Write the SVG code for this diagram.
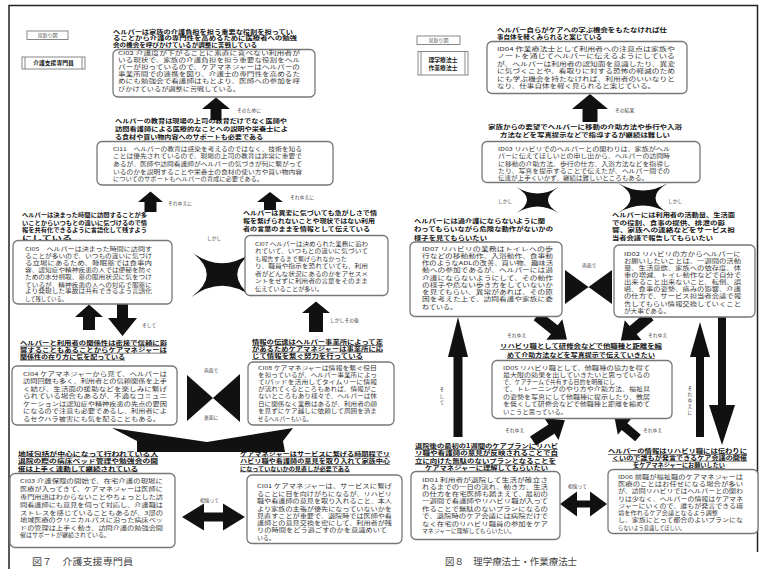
<svg xmlns="http://www.w3.org/2000/svg" xmlns:xlink="http://www.w3.org/1999/xlink" width="766" height="569" viewBox="0 0 766 569">
<style>
text { font-family: "Noto Sans CJK JP", "Noto Sans CJK SC", sans-serif; }
.h { font-size: 5.6px; font-weight: bold; fill: #111; }
.u { text-decoration: underline; }
.b { font-size: 5.4px; fill: #333; }
.l { font-size: 4.8px; fill: #444; }
.tag { font-size: 5px; fill: #555; }
.role { font-size: 5.8px; font-weight: bold; fill: #222; }
.cap { font-size: 9.5px; fill: #444; }
.box { fill: #fff; stroke: #777; stroke-width: 1.3; }
.thin { fill: #fff; stroke: #888; stroke-width: 1; }
.blk { fill: #111; stroke: none; }
.frame { fill: none; stroke: #222; stroke-width: 1.5; }
</style>
<defs>
  <!-- four-pointed X with concave sides, unit size -->
  <path id="xstar" d="M-1,-1 Q0,0 1,-1 Q0,0 1,1 Q0,0 -1,1 Q0,0 -1,-1 Z"/>
  <!-- straight block arrow pointing along +x, length 38 -->
  <path id="darr" d="M0,-5.5 L22,-5.5 L22,-13 L38,0 L22,13 L22,5.5 L0,5.5 Z"/>
</defs>

<rect width="766" height="569" fill="#fff"/>
<path class="frame" d="M9,569 L9,5.5 L757.5,5.5 L757.5,552"/>

<g id="connectors">
  <!-- left figure -->
  <path class="blk" d="M216,97.5 L230,109 L221.5,109 L221.5,120 L210.5,120 L210.5,109 L202,109 Z"/>
  <path class="blk" d="M150.5,191.5 L163,202 L156.5,202 L156.5,212 L144.5,212 L144.5,202 L138,202 Z"/>
  <path class="blk" d="M270,192 L283,202 L276,202 L276,210 L264,210 L264,202 L257,202 Z"/>
  <use href="#xstar" class="blk" transform="translate(222,274.5) scale(30.5,22.5)"/>
  <path class="blk" d="M316,301.5 L330,313 L323,313 L323,332 L309,332 L309,313 L302,313 Z"/>
  <path class="blk" d="M89,304.5 L103,317 L95,317 L95,330 L83,330 L83,317 L75,317 Z"/>
  <path class="blk" d="M117,304 L128,304 L128,318 L137,318 L122.5,336 L108,318 L117,318 Z"/>
  <path class="blk" d="M187,375 L240,422 L240,374 L187,421 Z"/>
  <path class="blk" d="M112,428 L207,442 L293,428 L283,441 L285,452 L137,452 L137,441 Z"/>
  <path class="blk" d="M182,517 L204,503.5 L204,512.5 L223,512.5 L223,503.5 L245,517 L223,530.5 L223,521.5 L204,521.5 L204,530.5 Z"/>
  <!-- right figure -->
  <path class="blk" d="M590,94 L608,109 L597.5,109 L597.5,122 L582.5,122 L582.5,109 L572,109 Z"/>
  <use href="#xstar" class="blk" transform="translate(537.5,200) scale(21,13)"/>
  <use href="#xstar" class="blk" transform="translate(643,198) scale(25,15)"/>
  <path class="blk" d="M565,270 L612,304 L612,270 L565,304 Z"/>
  <use href="#darr" class="blk" transform="translate(537,316) rotate(38)"/>
  <use href="#darr" class="blk" transform="translate(650,316) rotate(140)"/>
  <use href="#darr" class="blk" transform="translate(533,441) rotate(-33)"/>
  <use href="#darr" class="blk" transform="translate(638,438) rotate(-140) scale(0.8)"/>
  <path class="blk" d="M458,317 L468,357 L462.5,357 L462.5,437 L453.5,437 L453.5,357 L448,357 Z"/>
  <path class="blk" d="M700,322 L710,357 L704,357 L704,437 L696,437 L696,357 L690,357 Z"/>
  <path class="blk" d="M718,317 L726,317 L726,405 L735,405 L722,445 L709,405 L718,405 Z"/>
  <path class="blk" d="M560,504 L577,491.5 L577,500.5 L590,500.5 L590,491.5 L607,504 L590,516.5 L590,507.5 L577,507.5 L577,516.5 Z"/>

  <!-- connector labels -->
  <text class="l" x="237" y="112">そのために</text>
  <text class="l" x="168" y="205">それゆえに</text>
  <text class="l" x="290" y="199">それゆえに</text>
  <text class="l" x="207" y="240">しかし</text>
  <text class="l" x="330" y="322">しかしその後</text>
  <text class="l" x="142" y="327">そして</text>
  <text class="l" x="204" y="372">両面で</text>
  <text class="l" x="204" y="419">裏面に</text>
  <text class="l" x="200" y="502">相俟って</text>
  <text class="l" x="615" y="112">その結果</text>
  <text class="l" x="498" y="203">しかし</text>
  <text class="l" x="668" y="203">しかし</text>
  <text class="l" x="582" y="267">両面で</text>
  <text class="l" x="507" y="337">それゆえ</text>
  <text class="l" x="648" y="337">それゆえ</text>
  <text class="l" x="505" y="432">それゆえ</text>
  <text class="l" x="643" y="432">それゆえ</text>
  <text class="l" x="568" y="488">相俟って</text>
  <text class="l" text-anchor="middle"><tspan x="442" y="391">そ</tspan><tspan x="442" y="397.5">し</tspan><tspan x="442" y="404">て</tspan></text>
  <text class="l" text-anchor="middle"><tspan x="690" y="390">そ</tspan><tspan x="690" y="396">れ</tspan><tspan x="690" y="402">ゆ</tspan><tspan x="690" y="408">え</tspan><tspan x="690" y="414">に</tspan></text>
</g>

<g id="legend-left">
  <rect class="thin" x="27" y="31" width="41" height="8.5"/>
  <text class="tag" x="47.5" y="37.4" text-anchor="middle">見取り図</text>
  <rect class="thin" x="22" y="57" width="63" height="12"/>
  <path d="M25,57 V69 M82,57 V69" stroke="#888" stroke-width="1"/>
  <text class="role" x="53.5" y="65.2" text-anchor="middle">介護支援専門員</text>
</g>

<g id="n-ci02">
  <text class="h" x="113" y="33.5" textLength="180" lengthAdjust="spacingAndGlyphs">ヘルパーは家族の介護負担を担う重要な役割を担ってい</text>
  <text class="h" x="113" y="40" textLength="184" lengthAdjust="spacingAndGlyphs">ることから介護の専門性を高めるために医療者への勉強</text>
  <text class="h" x="113" y="46.5" textLength="144" lengthAdjust="spacingAndGlyphs">会の機会を呼びかけているが調整に苦戦している</text>
  <rect class="box" x="113" y="49.5" width="202" height="47.5" rx="5"/>
  <text class="b" x="118" y="55" textLength="182" lengthAdjust="spacingAndGlyphs">CI02 介護度が下がることに素直に喜べない利用者が</text>
  <text class="b" x="118" y="62.2" textLength="182" lengthAdjust="spacingAndGlyphs">いる現状で、家族の介護負担を担う重要な役割をヘル</text>
  <text class="b" x="118" y="69.2" textLength="182" lengthAdjust="spacingAndGlyphs">パーが担っているので、ケアマネジャーはヘルパーの</text>
  <text class="b" x="118" y="76.2" textLength="182" lengthAdjust="spacingAndGlyphs">事業所間での連携を図り、介護士の専門性を高めるた</text>
  <text class="b" x="118" y="83.2" textLength="182" lengthAdjust="spacingAndGlyphs">めにも勉強会で看護師はもとより、医師への参加を呼</text>
  <text class="b" x="118" y="90.7" textLength="122" lengthAdjust="spacingAndGlyphs">びかけているが調整に苦戦している。</text>
</g>

<g id="n-ci11">
  <text class="h" x="115" y="123" textLength="172" lengthAdjust="spacingAndGlyphs">ヘルパーの教育は現場の上司の教育だけでなく医師や</text>
  <text class="h" x="115" y="130.6" textLength="173" lengthAdjust="spacingAndGlyphs">訪問看護師による医療的なことへの説明や栄養士によ</text>
  <text class="h" x="115" y="138.8" textLength="148" lengthAdjust="spacingAndGlyphs">る食材や買い物内容へのサポートも必要である</text>
  <rect class="box" x="97" y="141.5" width="236" height="43.5" rx="5"/>
  <text class="b" x="113" y="150.5" textLength="189" lengthAdjust="spacingAndGlyphs">CI11　ヘルパーの教育は感染を考えるのではなく、技術を知る</text>
  <text class="b" x="113" y="158.2" textLength="189" lengthAdjust="spacingAndGlyphs">ことは優先されているので、現場の上司の教育は非常に重要で</text>
  <text class="b" x="113" y="166.2" textLength="189" lengthAdjust="spacingAndGlyphs">あるが、医師や訪問看護師がヘルパーの気づきが何に繋がって</text>
  <text class="b" x="113" y="173.9" textLength="189" lengthAdjust="spacingAndGlyphs">いるのかを説明することや栄養士の食材の使い方や買い物内容</text>
  <text class="b" x="113" y="181.2" textLength="150" lengthAdjust="spacingAndGlyphs">についてのサポートもヘルパーの育成に必要である。</text>
</g>

<g id="n-ci05">
  <text class="h" x="22" y="217.3" textLength="125" lengthAdjust="spacingAndGlyphs">ヘルパーは決まった時間に訪問することが多</text>
  <text class="h" x="22" y="224.8" textLength="125" lengthAdjust="spacingAndGlyphs">いことからいつもとの違いに気づけるので情</text>
  <text class="h" x="22" y="232.3" textLength="125" lengthAdjust="spacingAndGlyphs">報を共有化できるように言語化して残すよう</text>
  <text class="h" x="22" y="239.6" textLength="50" lengthAdjust="spacingAndGlyphs">にしている</text>
  <rect class="box" x="13" y="240.5" width="159" height="63.5" rx="5"/>
  <text class="b" x="25" y="250.5" textLength="127" lengthAdjust="spacingAndGlyphs">CI05　ヘルパーは決まった時間に訪問す</text>
  <text class="b" x="25" y="257.9" textLength="127" lengthAdjust="spacingAndGlyphs">ることが多いので、いつもの違いに気づけ</text>
  <text class="b" x="25" y="264.9" textLength="127" lengthAdjust="spacingAndGlyphs">る立場にあるため、睡眠薬では食事内</text>
  <text class="b" x="25" y="272.2" textLength="127" lengthAdjust="spacingAndGlyphs">容、認知症や精神疾患の人では便秘を防ぐ</text>
  <text class="b" x="25" y="279.2" textLength="127" lengthAdjust="spacingAndGlyphs">ための水分摂取、薬の服用状況に気をつけ</text>
  <text class="b" x="25" y="286.5" textLength="127" lengthAdjust="spacingAndGlyphs">ているが、精神疾患の人への対応で服薬に</text>
  <text class="b" x="25" y="293.2" textLength="127" lengthAdjust="spacingAndGlyphs">より発現した事故は共有できるよう言語化</text>
  <text class="b" x="25" y="300.5" textLength="42" lengthAdjust="spacingAndGlyphs">して残している。</text>
</g>

<g id="n-ci07">
  <text class="h" x="243" y="214.8" textLength="134" lengthAdjust="spacingAndGlyphs">ヘルパーは異変に気づいても急がしさで情</text>
  <text class="h" x="243" y="222.8" textLength="132" lengthAdjust="spacingAndGlyphs">報を繋げられないことや現状ではない利用</text>
  <text class="h" x="243" y="231.3" textLength="127" lengthAdjust="spacingAndGlyphs">者の言葉のままを情報として伝えている</text>
  <rect class="box" x="245" y="235.5" width="143" height="60" rx="5"/>
  <text class="b" x="255" y="245.5" textLength="113" lengthAdjust="spacingAndGlyphs">CI07 ヘルパーは決められた業務に追わ</text>
  <text class="b" x="255" y="252.9" textLength="113" lengthAdjust="spacingAndGlyphs">れていて、いつもとの違いに気づいて</text>
  <text class="b" x="255" y="260.5" textLength="92" lengthAdjust="spacingAndGlyphs">も報告するまで繋げられなかった</text>
  <text class="b" x="255" y="267.9" textLength="113" lengthAdjust="spacingAndGlyphs">り、職員や指示を恐れていても、利用</text>
  <text class="b" x="255" y="275.5" textLength="113" lengthAdjust="spacingAndGlyphs">者がどんな状況にあるのかをアセスメ</text>
  <text class="b" x="255" y="283.2" textLength="113" lengthAdjust="spacingAndGlyphs">ントをせずに利用者の言葉をそのまま</text>
  <text class="b" x="255" y="290.5" textLength="68" lengthAdjust="spacingAndGlyphs">伝えていることが多い。</text>
</g>

<g id="n-ci04">
  <text class="h u" x="20" y="344.8" textLength="147" lengthAdjust="spacingAndGlyphs">ヘルパーと利用者の関係性は密接で信頼に影</text>
  <text class="h u" x="20" y="351.8" textLength="147" lengthAdjust="spacingAndGlyphs">響することもあることからケアマネジャーは</text>
  <text class="h u" x="20" y="358.8" textLength="105" lengthAdjust="spacingAndGlyphs">関係性の在り方に気を配っている</text>
  <rect class="box" x="12" y="366" width="165" height="59" rx="5"/>
  <text class="b" x="23" y="375.5" textLength="144" lengthAdjust="spacingAndGlyphs">CI04 ケアマネジャーから見て、ヘルパーは</text>
  <text class="b" x="23" y="383.2" textLength="144" lengthAdjust="spacingAndGlyphs">訪問回数も多く、利用者との信頼関係を上手</text>
  <text class="b" x="23" y="390.5" textLength="144" lengthAdjust="spacingAndGlyphs">く結び、生活面の援助などを楽しみに繋げ</text>
  <text class="b" x="23" y="397.9" textLength="144" lengthAdjust="spacingAndGlyphs">られている場合もあるが、不適なコミュニ</text>
  <text class="b" x="23" y="405.5" textLength="144" lengthAdjust="spacingAndGlyphs">ケーションは認知症や精神疾患の先点の要因</text>
  <text class="b" x="23" y="412.9" textLength="144" lengthAdjust="spacingAndGlyphs">になるので注意も必要であるし、利用者によ</text>
  <text class="b" x="23" y="420.5" textLength="137" lengthAdjust="spacingAndGlyphs">るセクハラ被害にも気を配ることもある。</text>
</g>

<g id="n-ci08">
  <text class="h u" x="252" y="344" textLength="131" lengthAdjust="spacingAndGlyphs">情報の伝達はヘルパー事業所によって差</text>
  <text class="h u" x="252" y="350.8" textLength="131" lengthAdjust="spacingAndGlyphs">があるためケアマネジャーは事業所に応</text>
  <text class="h u" x="252" y="358" textLength="111" lengthAdjust="spacingAndGlyphs">じて情報を繋ぐ努力を行っている</text>
  <rect class="box" x="248" y="362" width="146" height="63" rx="5"/>
  <text class="b" x="258" y="369.5" textLength="119" lengthAdjust="spacingAndGlyphs">CI08 ケアマネジャーは情報を繋ぐ役目</text>
  <text class="b" x="258" y="376.5" textLength="119" lengthAdjust="spacingAndGlyphs">を担っているが、ヘルパー事業所によっ</text>
  <text class="b" x="258" y="383.9" textLength="119" lengthAdjust="spacingAndGlyphs">てIパッドを活用してタイムリーに情報</text>
  <text class="b" x="258" y="391.2" textLength="119" lengthAdjust="spacingAndGlyphs">が流れてくるところもあれば、情報がこ</text>
  <text class="b" x="258" y="398.2" textLength="119" lengthAdjust="spacingAndGlyphs">ないところもあり様々で、ヘルパーは休</text>
  <text class="b" x="258" y="405.5" textLength="119" lengthAdjust="spacingAndGlyphs">日に関係なく業務はあるが、利用者の顔</text>
  <text class="b" x="258" y="412.9" textLength="119" lengthAdjust="spacingAndGlyphs">を見ずにケア越しに依頼して周囲を済ま</text>
  <text class="b" x="258" y="420.5" textLength="54" lengthAdjust="spacingAndGlyphs">せるヘルパーもいる。</text>
</g>

<g id="n-ci03">
  <text class="h u" x="18" y="455.6" textLength="140" lengthAdjust="spacingAndGlyphs">地域包括が中心になって行われている入</text>
  <text class="h u" x="18" y="463" textLength="140" lengthAdjust="spacingAndGlyphs">退院の際の病床ベッド管理や勉強会の開</text>
  <text class="h u" x="18" y="470.6" textLength="120" lengthAdjust="spacingAndGlyphs">催は上手く連動して継続されている</text>
  <rect class="box" x="10" y="473.5" width="165" height="74" rx="5"/>
  <text class="b" x="20" y="483.2" textLength="143" lengthAdjust="spacingAndGlyphs">CI03 介護保険の開始で、在宅介護の現場に</text>
  <text class="b" x="20" y="491.2" textLength="143" lengthAdjust="spacingAndGlyphs">医療が入ってきて、ケアマネジャーは医師に</text>
  <text class="b" x="20" y="498.9" textLength="143" lengthAdjust="spacingAndGlyphs">専門用語はわからないことやちょっとした訪</text>
  <text class="b" x="20" y="506.5" textLength="143" lengthAdjust="spacingAndGlyphs">問看護師にも意見を伺って対応し、介護職は</text>
  <text class="b" x="20" y="514.5" textLength="143" lengthAdjust="spacingAndGlyphs">ストレスを感じていることもあるが、3部の</text>
  <text class="b" x="20" y="522.2" textLength="143" lengthAdjust="spacingAndGlyphs">地域医療のクリニカルパスに沿った病床ベッ</text>
  <text class="b" x="20" y="529.5" textLength="143" lengthAdjust="spacingAndGlyphs">ドの管理は上手く動き、訪問介護の勉強会開</text>
  <text class="b" x="20" y="537.2" textLength="90" lengthAdjust="spacingAndGlyphs">催はサポートが継続されている。</text>
</g>

<g id="n-ci01">
  <text class="h u" x="240" y="455.6" textLength="150" lengthAdjust="spacingAndGlyphs">ケアマネジャーはサービスに繋げる時期程でリ</text>
  <text class="h u" x="240" y="463" textLength="150" lengthAdjust="spacingAndGlyphs">ハビリ職や看護師の意見を取り入れて家族中心</text>
  <text class="h u" x="240" y="470.6" textLength="110" lengthAdjust="spacingAndGlyphs">になっていないかの見直しが必要である</text>
  <rect class="box" x="247" y="475" width="155" height="68.5" rx="5"/>
  <text class="b" x="257" y="488.2" textLength="135" lengthAdjust="spacingAndGlyphs">CI01 ケアマネジャーは、サービスに繋げ</text>
  <text class="b" x="257" y="495.5" textLength="135" lengthAdjust="spacingAndGlyphs">ることに目を向けがちになるが、リハビリ</text>
  <text class="b" x="257" y="502.9" textLength="135" lengthAdjust="spacingAndGlyphs">職や看護師の意見を取り入れること、本人</text>
  <text class="b" x="257" y="510.5" textLength="135" lengthAdjust="spacingAndGlyphs">より家族の主張が優先になっていないかを</text>
  <text class="b" x="257" y="517.9" textLength="135" lengthAdjust="spacingAndGlyphs">見直すことが重要で、退院時では医師や看</text>
  <text class="b" x="257" y="524.9" textLength="135" lengthAdjust="spacingAndGlyphs">護師との意見交換を密にして、利用者が残</text>
  <text class="b" x="257" y="532.2" textLength="130" lengthAdjust="spacingAndGlyphs">りの時間をどう過ごすのかを意識めいて</text>
  <text class="b" x="257" y="539.5" textLength="18" lengthAdjust="spacingAndGlyphs">いる。</text>
</g>

<text class="cap" x="32" y="565" textLength="101" lengthAdjust="spacingAndGlyphs">図７　介護支援専門員</text>

<g id="legend-right">
  <rect class="thin" x="417" y="36" width="43" height="8.5"/>
  <text class="tag" x="438.5" y="42.4" text-anchor="middle">見取り図</text>
  <rect class="thin" x="418" y="51.5" width="50" height="23.5"/>
  <path d="M421,51.5 V75 M465,51.5 V75" stroke="#888" stroke-width="1"/>
  <text class="role" x="443" y="61.5" text-anchor="middle">理学療法士</text>
  <text class="role" x="443" y="69.6" text-anchor="middle">作業療法士</text>
</g>

<g id="n-id04">
  <text class="h" x="497" y="31.8" textLength="170" lengthAdjust="spacingAndGlyphs">ヘルパー自らがケアへの学ぶ機会をもたなければ仕</text>
  <text class="h" x="497" y="38.5" textLength="105" lengthAdjust="spacingAndGlyphs">事自体を軽くみられると案じている</text>
  <rect class="box" x="487" y="41.5" width="200" height="52" rx="5"/>
  <text class="b" x="497" y="50.5" textLength="178" lengthAdjust="spacingAndGlyphs">ID04 作業療法士として利用者への注意点は家族や</text>
  <text class="b" x="497" y="58.2" textLength="178" lengthAdjust="spacingAndGlyphs">ノートを通じてヘルパーに伝えるようにしている</text>
  <text class="b" x="497" y="65.5" textLength="178" lengthAdjust="spacingAndGlyphs">が、ヘルパーは利用者の認知面を意識したり、異変</text>
  <text class="b" x="497" y="72.9" textLength="178" lengthAdjust="spacingAndGlyphs">に気づくことや、看取りに対する恐怖の軽減のため</text>
  <text class="b" x="497" y="80.5" textLength="178" lengthAdjust="spacingAndGlyphs">にも学ぶ機会を持たなければ、利用者のいいなりと</text>
  <text class="b" x="497" y="88.2" textLength="158" lengthAdjust="spacingAndGlyphs">なり、仕事自体を軽く見られると案じている。</text>
</g>

<g id="n-id03">
  <text class="h" x="488" y="129" textLength="194" lengthAdjust="spacingAndGlyphs">家族からの要望でヘルパーに移動の介助方法や歩行や入浴</text>
  <text class="h" x="500" y="136.6" textLength="170" lengthAdjust="spacingAndGlyphs">方法などを写真提示などで指導するが継続は難しい</text>
  <rect class="box" x="482" y="141.5" width="218" height="41" rx="5"/>
  <text class="b" x="498" y="150.5" textLength="172" lengthAdjust="spacingAndGlyphs">ID03 リハビリでのヘルパーとの関わりは、家族がヘル</text>
  <text class="b" x="498" y="157.9" textLength="172" lengthAdjust="spacingAndGlyphs">パーに伝えてほしいとの申し出から、ヘルパーの訪問時</text>
  <text class="b" x="498" y="165.5" textLength="172" lengthAdjust="spacingAndGlyphs">に移動の介助方法、歩行の仕方、入浴方法などを指導し</text>
  <text class="b" x="498" y="172.9" textLength="172" lengthAdjust="spacingAndGlyphs">たり、写真を提示することで伝えたが、ヘルパー間での</text>
  <text class="b" x="498" y="180.3" textLength="150" lengthAdjust="spacingAndGlyphs">伝達が上手くいかず、継続は難しいところもある。</text>
</g>

<g id="n-id07">
  <text class="h" x="414" y="223.3" textLength="131" lengthAdjust="spacingAndGlyphs">ヘルパーには過介護にならないように関</text>
  <text class="h" x="414" y="231.3" textLength="139" lengthAdjust="spacingAndGlyphs">わってもらいながら危険な動作がないかの</text>
  <text class="h" x="414" y="239.5" textLength="73" lengthAdjust="spacingAndGlyphs">様子を見てもらいたい</text>
  <rect class="box" x="410" y="242" width="152" height="74.5" rx="5"/>
  <text class="b" x="422" y="250.5" textLength="131" lengthAdjust="spacingAndGlyphs">ID07 リハビリの業務はトイレへの歩</text>
  <text class="b" x="422" y="257.9" textLength="131" lengthAdjust="spacingAndGlyphs">行などの移動動作、入浴動作、食事動</text>
  <text class="b" x="422" y="264.9" textLength="131" lengthAdjust="spacingAndGlyphs">作のようなADLの改善、買い物、趣味活</text>
  <text class="b" x="422" y="272.2" textLength="131" lengthAdjust="spacingAndGlyphs">動への参加であるが、ヘルパーには過</text>
  <text class="b" x="422" y="279.5" textLength="131" lengthAdjust="spacingAndGlyphs">介護にならないようにして、その動作</text>
  <text class="b" x="422" y="286.5" textLength="131" lengthAdjust="spacingAndGlyphs">の様子や危ない歩き方をしていないか</text>
  <text class="b" x="422" y="293.9" textLength="131" lengthAdjust="spacingAndGlyphs">を見てもらい、異常があれば、その原</text>
  <text class="b" x="422" y="301.2" textLength="131" lengthAdjust="spacingAndGlyphs">因を考えた上で、訪問看護や家族に委</text>
  <text class="b" x="422" y="308.7" textLength="35" lengthAdjust="spacingAndGlyphs">ねている。</text>
</g>

<g id="n-id02">
  <text class="h" x="612" y="217.3" textLength="123" lengthAdjust="spacingAndGlyphs">ヘルパーには利用者の活動量、生活面</text>
  <text class="h" x="612" y="224.6" textLength="113" lengthAdjust="spacingAndGlyphs">での役割、食事の提供、排泄の影</text>
  <text class="h" x="612" y="232.3" textLength="123" lengthAdjust="spacingAndGlyphs">響、家族への連絡などをサービス担</text>
  <text class="h" x="612" y="239.6" textLength="101" lengthAdjust="spacingAndGlyphs">当者会議で報告してもらいたい</text>
  <rect class="box" x="614" y="245" width="141" height="72" rx="5"/>
  <text class="b" x="624" y="255.5" textLength="117" lengthAdjust="spacingAndGlyphs">ID02 リハビリの方からヘルパーに</text>
  <text class="b" x="624" y="262.5" textLength="117" lengthAdjust="spacingAndGlyphs">お願いしたいことは、一週間の活動</text>
  <text class="b" x="624" y="269.5" textLength="117" lengthAdjust="spacingAndGlyphs">量、生活意欲、家族への依存度、体</text>
  <text class="b" x="624" y="276.5" textLength="117" lengthAdjust="spacingAndGlyphs">重の増減、トイレ動作などで自分で</text>
  <text class="b" x="624" y="283.9" textLength="117" lengthAdjust="spacingAndGlyphs">出来ること出来ないこと、転倒、誤</text>
  <text class="b" x="624" y="291.2" textLength="117" lengthAdjust="spacingAndGlyphs">嚥、食事の姿勢、痛みの影響、介護</text>
  <text class="b" x="624" y="298.2" textLength="117" lengthAdjust="spacingAndGlyphs">の仕方で、サービス担当者会議で報</text>
  <text class="b" x="624" y="305.5" textLength="117" lengthAdjust="spacingAndGlyphs">告してもらい情報交換していくこと</text>
  <text class="b" x="624" y="312.9" textLength="46" lengthAdjust="spacingAndGlyphs">が大事である。</text>
</g>

<g id="n-id05">
  <text class="h u" x="500" y="348.3" textLength="162" lengthAdjust="spacingAndGlyphs">リハビリ職として研修会などで他職種と距離を縮</text>
  <text class="h u" x="507" y="357" textLength="148" lengthAdjust="spacingAndGlyphs">めて介助方法などを写真提示で伝えていきたい</text>
  <rect class="box" x="492" y="360.5" width="180" height="58" rx="5"/>
  <text class="b" x="503" y="369.5" textLength="147" lengthAdjust="spacingAndGlyphs">ID05 リハビリ職として、他職種の協力を得て</text>
  <text class="b" x="503" y="376.5" textLength="147" lengthAdjust="spacingAndGlyphs">最大限の効果を出していきたいと思っているの</text>
  <text class="b" x="503" y="383.9" textLength="112" lengthAdjust="spacingAndGlyphs">で、ケアチームで共有する目的を明確にし</text>
  <text class="b" x="503" y="391.2" textLength="147" lengthAdjust="spacingAndGlyphs">て、トレーニングのやり方や介助方法、福祉具</text>
  <text class="b" x="503" y="398.9" textLength="147" lengthAdjust="spacingAndGlyphs">の姿勢を写真にして他職種に提示したり、敷居</text>
  <text class="b" x="503" y="406.2" textLength="147" lengthAdjust="spacingAndGlyphs">を低くして研修会などで他職種と距離を縮めて</text>
  <text class="b" x="503" y="413.9" textLength="64" lengthAdjust="spacingAndGlyphs">いこうと思っている。</text>
</g>

<g id="n-id01">
  <text class="h u" x="415" y="448.3" textLength="143" lengthAdjust="spacingAndGlyphs">退院後の最初の1週間のケアプランにリハビ</text>
  <text class="h u" x="415" y="455.4" textLength="143" lengthAdjust="spacingAndGlyphs">リ職や看護師の意見が反映されることで自</text>
  <text class="h u" x="415" y="463" textLength="141" lengthAdjust="spacingAndGlyphs">立に向けた無駄のないプランとなることを</text>
  <text class="h u" x="425" y="470.4" textLength="123" lengthAdjust="spacingAndGlyphs">ケアマネジャーに理解してもらいたい</text>
  <rect class="box" x="411" y="471.5" width="149" height="68" rx="5"/>
  <text class="b" x="422" y="482.2" textLength="126" lengthAdjust="spacingAndGlyphs">ID01 利用者が退院して生活が確立さ</text>
  <text class="b" x="422" y="489.2" textLength="126" lengthAdjust="spacingAndGlyphs">れるまでの一日の流れ、動き方、生活</text>
  <text class="b" x="422" y="496.2" textLength="126" lengthAdjust="spacingAndGlyphs">の仕方を在宅医師も踏まえて、最初の</text>
  <text class="b" x="422" y="503.2" textLength="126" lengthAdjust="spacingAndGlyphs">一週間で看護師やリハビリ職が入って</text>
  <text class="b" x="422" y="510.5" textLength="126" lengthAdjust="spacingAndGlyphs">作ることで無駄のないプランになるの</text>
  <text class="b" x="422" y="517.9" textLength="126" lengthAdjust="spacingAndGlyphs">で、退院時のケア会議には病院だけで</text>
  <text class="b" x="422" y="525.5" textLength="126" lengthAdjust="spacingAndGlyphs">なく在宅のリハビリ職員の参加をケア</text>
  <text class="b" x="422" y="532.9" textLength="93" lengthAdjust="spacingAndGlyphs">マネジャーに理解してもらいたい。</text>
</g>

<g id="n-id06">
  <text class="h u" x="608" y="453" textLength="139" lengthAdjust="spacingAndGlyphs">ヘルパーの情報はリハビリ職には伝わりに</text>
  <text class="h u" x="612" y="459.8" textLength="135" lengthAdjust="spacingAndGlyphs">くいので誰もが発言できるケア会議の開催</text>
  <text class="h u" x="633" y="467.1" textLength="92" lengthAdjust="spacingAndGlyphs">をケアマネジャーにお願いしたい</text>
  <rect class="box" x="608" y="469.5" width="150" height="64" rx="5"/>
  <text class="b" x="618" y="478.9" textLength="125" lengthAdjust="spacingAndGlyphs">ID06 前職が福祉職のケアマネジャーは</text>
  <text class="b" x="618" y="486.2" textLength="125" lengthAdjust="spacingAndGlyphs">医療のことはお任せになる場合が多い</text>
  <text class="b" x="618" y="493.2" textLength="125" lengthAdjust="spacingAndGlyphs">が、訪問リハビリではヘルパーとの関わ</text>
  <text class="b" x="618" y="500.5" textLength="125" lengthAdjust="spacingAndGlyphs">りは少なく、ヘルパーの情報はケアマネ</text>
  <text class="b" x="618" y="507.9" textLength="125" lengthAdjust="spacingAndGlyphs">ジャーにいくので、誰もが発言できる環</text>
  <text class="b" x="618" y="514.9" textLength="100" lengthAdjust="spacingAndGlyphs">境を作れるケア会議となるよう調整</text>
  <text class="b" x="618" y="522.2" textLength="125" lengthAdjust="spacingAndGlyphs">し、家族にとって都合のよいプランにな</text>
  <text class="b" x="618" y="529.5" textLength="67" lengthAdjust="spacingAndGlyphs">らないよう意識してほしい。</text>
</g>

<text class="cap" x="445" y="565" textLength="132" lengthAdjust="spacingAndGlyphs">図８　理学療法士・作業療法士</text>
</svg>
